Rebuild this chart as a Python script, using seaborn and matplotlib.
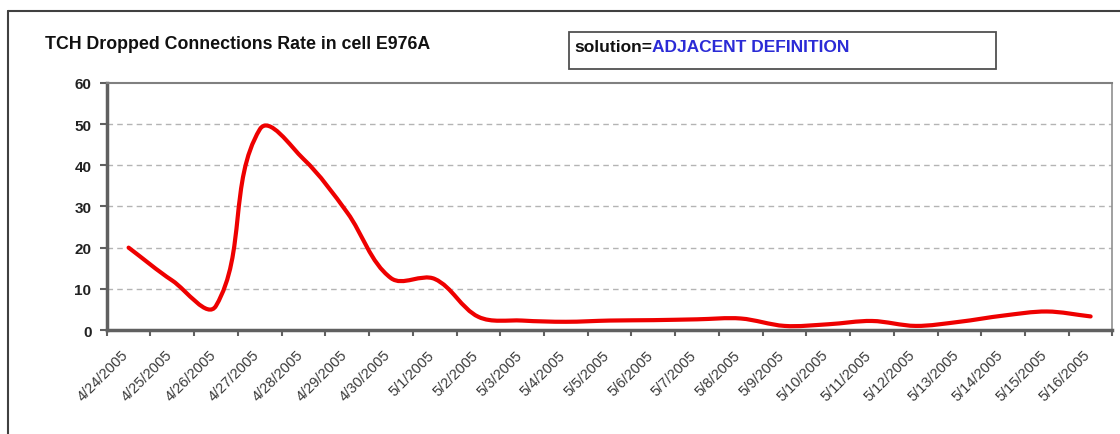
import numpy as np
import pandas as pd
import seaborn as sns
import matplotlib.pyplot as plt
from matplotlib.path import Path
from matplotlib.patches import PathPatch, Rectangle
from matplotlib.lines import Line2D

DATES = ['4/24/2005', '4/25/2005', '4/26/2005', '4/27/2005', '4/28/2005',
         '4/29/2005', '4/30/2005', '5/1/2005', '5/2/2005', '5/3/2005',
         '5/4/2005', '5/5/2005', '5/6/2005', '5/7/2005', '5/8/2005',
         '5/9/2005', '5/10/2005', '5/11/2005', '5/12/2005', '5/13/2005',
         '5/14/2005', '5/15/2005', '5/16/2005']
RATE = [20, 12, 5.9, 48.7, 41.5, 28.5, 12.6, 12.4, 3.2, 2.3, 2.0, 2.3,
        2.4, 2.6, 2.8, 1.0, 1.4, 2.2, 1.0, 2.0, 3.5, 4.5, 3.3]
Y_TICKS = [0, 10, 20, 30, 40, 50, 60]
TITLE = 'TCH Dropped Connections Rate in cell E976A'
NOTE_KEY = 'solution='
NOTE_VALUE = 'ADJACENT DEFINITION'

LINE_RED = '#ee0000'
AXIS_GREY = '#606060'


def smooth_path(ax, xs, ys, tension=1/3):
    """
    Excel-like smoothed line made of cubic Bezier segments.
    Tangent at each point runs along its neighbours' chord, and the control
    arms are a fraction of the segment length (worked out in pixels).
    """
    pts = ax.transData.transform(np.column_stack([xs, ys]))
    n = len(pts)
    tang = np.empty_like(pts)
    for i in range(n):
        d = pts[min(i + 1, n - 1)] - pts[max(i - 1, 0)]
        tang[i] = d / np.hypot(*d)
    verts = [pts[0]]
    codes = [Path.MOVETO]
    for i in range(n - 1):
        seg = np.hypot(*(pts[i + 1] - pts[i]))
        verts += [pts[i] + tang[i] * tension * seg,
                  pts[i + 1] - tang[i + 1] * tension * seg,
                  pts[i + 1]]
        codes += [Path.CURVE4] * 3
    verts = ax.transData.inverted().transform(np.array(verts))
    return Path(verts, codes)


def main():
    sns.set_style('white')
    plt.rcParams['font.family'] = ['Liberation Sans', 'DejaVu Sans']

    fig = plt.figure(figsize=(11.2, 4.35), dpi=100)
    ax = fig.add_axes([0.0953, 0.239, 0.898, 0.5683])

    df = pd.DataFrame({'day': np.arange(len(DATES)), 'rate': RATE})
    sns.lineplot(data=df, x='day', y='rate', color=LINE_RED, lw=3.0, ax=ax)

    # Axes, ticks, grid
    ax.set_xlim(-0.5, len(DATES) - 0.5)
    ax.set_ylim(0, 60)
    ax.set_xlabel('')
    ax.set_ylabel('')
    ax.set_yticks(Y_TICKS)
    ax.set_yticklabels([str(v) for v in Y_TICKS], fontsize=11,
                       fontweight='bold', color='#222222')
    ax.tick_params(axis='y', direction='out', length=5, width=1.5,
                   color=AXIS_GREY, pad=6, left=True)
    # labels sit a little left of the category centre, like Excel does
    ax.set_xticks(np.arange(len(DATES)) - 0.17)
    ax.set_xticklabels(DATES, rotation=45, ha='right', va='top',
                       rotation_mode='anchor', fontsize=10.5, color='#3a3a3a')
    ax.set_xticks(np.arange(len(DATES) + 1) - 0.5, minor=True)
    ax.tick_params(axis='x', which='major', length=0, pad=12.5)
    ax.tick_params(axis='x', which='minor', direction='out', length=4,
                   width=1.5, color=AXIS_GREY, bottom=True)

    ax.grid(False)
    for v in Y_TICKS[1:-1]:
        ax.axhline(v, color='#b4b4b4', lw=1, dashes=(4, 3), zorder=0)

    ax.spines['left'].set(color=AXIS_GREY, linewidth=2.5)
    ax.spines['bottom'].set(color=AXIS_GREY, linewidth=2.5)
    ax.spines['top'].set(color='#808080', linewidth=1.5)
    ax.spines['right'].set(color='#909090', linewidth=1.2)

    # Swap seaborn's straight polyline for the smoothed curve
    line = ax.lines[0]
    xs, ys = line.get_data()
    ax.add_patch(PathPatch(smooth_path(ax, xs, ys), fill=False,
                           ec=line.get_color(), lw=line.get_linewidth(),
                           capstyle='round', joinstyle='round', zorder=3))
    line.remove()

    # Title and the note box
    fig.text(45 / 1120, 1 - 49 / 435, TITLE, fontsize=12.8,
             fontweight='bold', color='#111111', va='baseline')
    fig.patches.append(Rectangle((569 / 1120, 1 - 70 / 435), 427 / 1120,
                                 37 / 435, transform=fig.transFigure,
                                 fc='white', ec='#505050', lw=1.3, zorder=-1))
    key = fig.text(574 / 1120, 1 - 47 / 435, NOTE_KEY, fontsize=12.5,
                   fontweight='bold', color='#111111', va='center')
    ax.annotate(NOTE_VALUE, xy=(1, 0.5), xycoords=key, va='center',
                fontsize=12.5, fontweight='bold', color='#2b2bd6',
                annotation_clip=False)

    # Outer chart frame (runs off the right and bottom edges)
    fig.add_artist(Line2D([8 / 1120, 1.0], [1 - 12 / 435] * 2,
                          color='#404040', lw=1.5))
    fig.add_artist(Line2D([8 / 1120] * 2, [0.0, 1 - 12 / 435],
                          color='#404040', lw=1.5))

    fig.savefig('out.png', dpi=100)


if __name__ == '__main__':
    main()
